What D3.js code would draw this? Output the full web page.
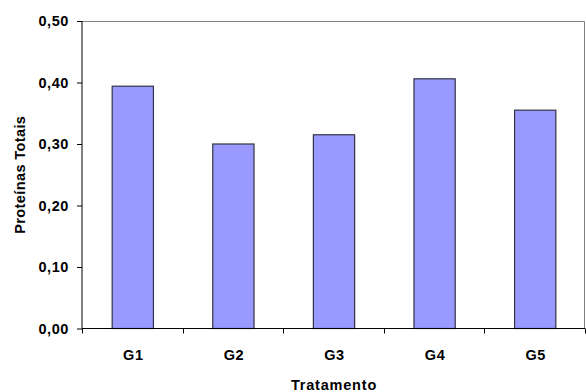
<!DOCTYPE html>
<html>
<head>
<meta charset="utf-8">
<script src="https://cdn.jsdelivr.net/npm/d3@7/dist/d3.min.js"></script>
<style>
  html, body { margin: 0; padding: 0; background: #fff; }
  svg { display: block; }
  text { font-family: "Liberation Sans", Arial, sans-serif; font-weight: bold; fill: #000; }
</style>
</head>
<body>
<svg id="chart" width="586" height="392"></svg>
<script>
// Total protein per treatment group
const categories = ["G1", "G2", "G3", "G4", "G5"];
const values = [0.394, 0.300, 0.315, 0.406, 0.355];
const yTicks = [0, 0.1, 0.2, 0.3, 0.4, 0.5];

const W = 586, H = 392;
const margin = { left: 82, right: 1, top: 21, bottom: 63.5 };
const FS = 14.5;
const svg = d3.select("#chart");

const x = d3.scaleBand()
  .domain(categories)
  .range([margin.left, W - margin.right])
  .paddingInner(0.59)
  .paddingOuter(0.295);

const y = d3.scaleLinear()
  .domain([0, 0.5])
  .range([H - margin.bottom, margin.top]);

const fmt = d => d3.format(".2f")(d).replace(".", ",");

// plot frame (top and right)
svg.append("path")
  .attr("d", `M${margin.left},${y(0.5) + 0.5}H${W - margin.right - 0.5}V${y(0)}`)
  .attr("fill", "none")
  .attr("stroke", "#808080")
  .attr("stroke-width", 1);

// bars
svg.append("g").selectAll("rect")
  .data(categories.map((c, i) => ({ c, v: values[i] })))
  .join("rect")
  .attr("x", d => x(d.c) + 0.5)
  .attr("y", d => y(d.v))
  .attr("width", x.bandwidth())
  .attr("height", d => y(0) - y(d.v))
  .attr("fill", "#9999FF")
  .attr("stroke", "#333344")
  .attr("stroke-width", 1.2);

// y axis
const yAxis = svg.append("g")
  .attr("transform", `translate(${margin.left},0)`)
  .call(d3.axisLeft(y).tickValues(yTicks).tickFormat(fmt).tickSize(5).tickPadding(8));
yAxis.select(".domain").attr("stroke", "#000").attr("d", `M0,${y(0.5)}V${y(0)}`);
yAxis.selectAll(".tick line").attr("stroke", "#000");
yAxis.selectAll("text")
  .attr("font-size", FS)
  .attr("letter-spacing", 0.6)
  .attr("font-family", "Liberation Sans, Arial, sans-serif")
  .attr("font-weight", "bold");

// x axis with ticks at category boundaries
const xAxisG = svg.append("g")
  .attr("transform", `translate(0,${y(0)})`);
xAxisG.append("line")
  .attr("x1", margin.left).attr("x2", W - margin.right)
  .attr("stroke", "#000");
const step = x.step();
const bounds = d3.range(categories.length + 1).map(i => margin.left + i * step);
xAxisG.selectAll("line.tk")
  .data(bounds)
  .join("line")
  .attr("class", "tk")
  .attr("x1", d => Math.round(d) + 0.5).attr("x2", d => Math.round(d) + 0.5)
  .attr("y1", 0).attr("y2", 5)
  .attr("stroke", "#000");
xAxisG.selectAll("text")
  .data(categories)
  .join("text")
  .attr("x", d => x(d) + x.bandwidth() / 2 + 1)
  .attr("y", 31.5)
  .attr("text-anchor", "middle")
  .attr("font-size", FS)
  .attr("letter-spacing", 0.6)
  .text(d => d);

// axis titles
svg.append("text")
  .attr("x", 334)
  .attr("y", 389.5)
  .attr("text-anchor", "middle")
  .attr("font-size", FS)
  .attr("letter-spacing", 0.8)
  .text("Tratamento");

svg.append("text")
  .attr("transform", `translate(25,${(y(0) + y(0.5)) / 2}) rotate(-90)`)
  .attr("text-anchor", "middle")
  .attr("font-size", FS)
  .attr("letter-spacing", 0.4)
  .text("Proteínas Totais");
</script>
</body>
</html>
